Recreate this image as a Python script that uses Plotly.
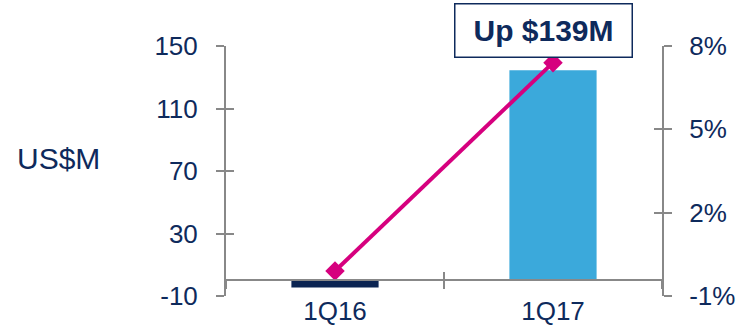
import plotly.graph_objects as go

categories = ["1Q16", "1Q17"]
revenue_musd = [-4.5, 134.5]
growth_pct = [-0.1, 7.4]
left_ticks = [-10, 30, 70, 110, 150]
left_labels = ["-10", "30", "70", "110", "150"]
right_ticks = [-1, 2, 5, 8]
right_labels = ["-1%", "2%", "5%", "8%"]
bar_colors = ["#0B2452", "#3BA9DB"]

NAVY = "#0E2A5C"
GRAY = "#888888"
MAGENTA = "#D6007E"
FONT = "Liberation Sans, Arial, sans-serif"

fig = go.Figure()
fig.add_trace(go.Bar(x=categories, y=revenue_musd, marker_color=bar_colors,
                     marker_line_width=0, width=0.4, xaxis="x", yaxis="y",
                     showlegend=False))
fig.add_trace(go.Scatter(x=categories, y=growth_pct, mode="lines+markers",
                         line=dict(color=MAGENTA, width=4),
                         marker=dict(symbol="diamond", size=15, color=MAGENTA),
                         xaxis="x", yaxis="y2", showlegend=False))
# invisible helper traces so the overlaid "inside tick" axes get drawn
idx = list(range(len(categories)))
fig.add_trace(go.Scatter(x=idx, y=revenue_musd, mode="markers",
                         marker=dict(opacity=0), hoverinfo="skip",
                         xaxis="x2", yaxis="y3", showlegend=False))
fig.add_trace(go.Scatter(x=idx, y=growth_pct, mode="markers",
                         marker=dict(opacity=0), hoverinfo="skip",
                         xaxis="x2", yaxis="y4", showlegend=False))

ylo, yhi = left_ticks[0], left_ticks[-1]
zero_pos = (0 - ylo) / (yhi - ylo)

common_tick = dict(tickcolor=GRAY, tickwidth=2, ticklen=8, showgrid=False,
                   zeroline=False, automargin=False)

fig.update_layout(
    width=738, height=326,
    margin=dict(l=226, r=76, t=46, b=30, autoexpand=False),
    paper_bgcolor="white", plot_bgcolor="white",
    font=dict(family=FONT, color=NAVY, size=26),
    xaxis=dict(type="category", anchor="free", position=zero_pos,
               showline=True, linecolor=GRAY, linewidth=2,
               ticks="outside", tickson="boundaries",
               tickfont=dict(size=26, color=NAVY), ticklabelstandoff=7,
               range=[-0.5, 1.5], **common_tick),
    xaxis2=dict(overlaying="x", anchor="free", position=zero_pos,
                range=[-0.5, 1.5], tickvals=[0.5], ticks="inside",
                showticklabels=False, showline=False, **common_tick),
    yaxis=dict(range=[ylo, yhi], tickvals=left_ticks, ticktext=left_labels,
               showline=True, linecolor=GRAY, linewidth=2, ticks="outside",
               tickfont=dict(size=26, color=NAVY), ticklabelstandoff=13,
               **common_tick),
    yaxis3=dict(overlaying="y", range=[ylo, yhi], tickvals=left_ticks,
                ticks="inside", showticklabels=False, showline=False,
                anchor="x2", **common_tick),
    yaxis2=dict(overlaying="y", side="right", range=[right_ticks[0], right_ticks[-1]],
                tickvals=right_ticks, ticktext=right_labels, showline=True,
                linecolor=GRAY, linewidth=2, ticks="outside",
                tickfont=dict(size=26, color=NAVY), ticklabelstandoff=12,
                **common_tick),
    yaxis4=dict(overlaying="y", side="right", range=[right_ticks[0], right_ticks[-1]],
                tickvals=right_ticks, ticks="inside", showticklabels=False,
                showline=False, anchor="x2", **common_tick),
    annotations=[
        dict(text="US$M", xref="paper", yref="paper", x=-0.483, y=0.552,
             xanchor="left", yanchor="middle", showarrow=False,
             font=dict(size=30, color=NAVY, family=FONT)),
        dict(text="<b>Up $139M</b>", xref="paper", yref="paper", x=0.729, y=1.06,
             xanchor="center", yanchor="middle", showarrow=False,
             width=174, height=50, borderpad=1, borderwidth=1.5,
             bordercolor=NAVY, bgcolor="white",
             font=dict(size=30, color=NAVY, family=FONT)),
    ],
)

fig.write_html("out.html")
